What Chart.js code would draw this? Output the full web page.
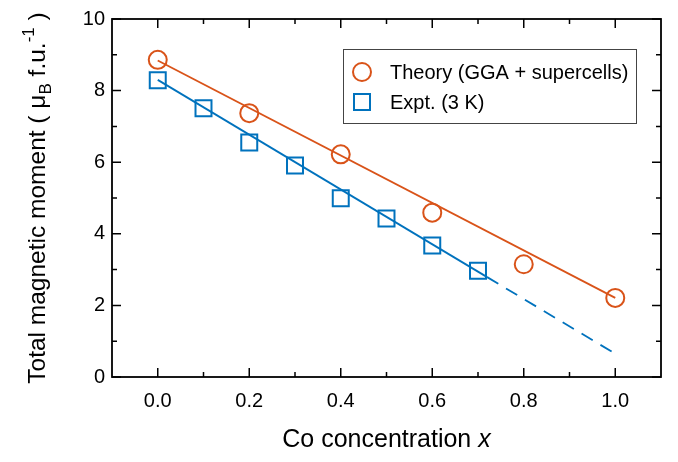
<!DOCTYPE html>
<html>
<head>
<meta charset="utf-8">
<script src="https://cdn.jsdelivr.net/npm/chart.js@4/dist/chart.umd.min.js"></script>
<style>
  html, body { margin: 0; padding: 0; background: #fff; }
  #wrap { width: 678px; height: 462px; }
</style>
</head>
<body>
<div id="wrap"><canvas id="myChart" width="678" height="462"></canvas></div>
<script>
// data
const theoryX = [0.0, 0.2, 0.4, 0.6, 0.8, 1.0];
const theoryY = [8.86, 7.37, 6.22, 4.59, 3.15, 2.21];
const exptX = [0.0, 0.1, 0.2, 0.3, 0.4, 0.5, 0.6, 0.7];
const exptY = [8.29, 7.51, 6.55, 5.91, 4.99, 4.43, 3.67, 2.97];

// linear fits drawn as straight lines
const theoryFitX = [0.0, 1.0];
const theoryFitY = [8.84, 2.21];
const exptFitX = [0.0, 0.72];
const exptFitY = [8.30, 2.79];
const exptExtrapX = [0.72, 1.0];
const exptExtrapY = [2.79, 0.65];

const xTicks = [0.0, 0.2, 0.4, 0.6, 0.8, 1.0];
const xMinor = [0.1, 0.3, 0.5, 0.7, 0.9];
const yTicks = [0, 2, 4, 6, 8, 10];
const yMinor = [1, 3, 5, 7, 9];

const legendLabels = ['Theory (GGA + supercells)', 'Expt. (3 K)'];

const orange = '#D95319';
const blue = '#0072BD';
const FONT = '"Liberation Sans", Arial, Helvetica, sans-serif';

const pts = (xs, ys) => xs.map((x, i) => ({ x: x, y: ys[i] }));

// box, inward ticks, axis titles and legend
const framePlugin = {
    id: 'frame',
    afterDraw(chart) {
        const ctx = chart.ctx;
        const a = chart.chartArea;
        const xs = chart.scales.x, ys = chart.scales.y;
        ctx.save();
        ctx.strokeStyle = '#000';
        ctx.lineWidth = 1.8;
        ctx.strokeRect(a.left, a.top, a.right - a.left, a.bottom - a.top);

        ctx.lineWidth = 1.5;
        ctx.beginPath();
        const tickX = (vals, len) => vals.forEach(v => {
            const px = xs.getPixelForValue(v);
            ctx.moveTo(px, a.bottom); ctx.lineTo(px, a.bottom - len);
            ctx.moveTo(px, a.top); ctx.lineTo(px, a.top + len);
        });
        const tickY = (vals, len) => vals.forEach(v => {
            const py = ys.getPixelForValue(v);
            ctx.moveTo(a.left, py); ctx.lineTo(a.left + len, py);
            ctx.moveTo(a.right, py); ctx.lineTo(a.right - len, py);
        });
        tickX(xTicks, 9); tickX(xMinor, 5);
        tickY(yTicks, 9); tickY(yMinor, 5);
        ctx.stroke();

        // x title
        ctx.fillStyle = '#000';
        ctx.textBaseline = 'alphabetic';
        const xt1 = 'Co concentration ';
        const xt2 = 'x';
        ctx.font = '25px ' + FONT;
        const w1 = ctx.measureText(xt1).width;
        ctx.font = 'italic 25px ' + FONT;
        const w2 = ctx.measureText(xt2).width;
        let sx = (a.left + a.right) / 2 - (w1 + w2) / 2;
        const by = 447;
        ctx.font = '25px ' + FONT;
        ctx.textAlign = 'left';
        ctx.fillText(xt1, sx, by);
        ctx.font = 'italic 25px ' + FONT;
        ctx.fillText(xt2, sx + w1, by);

        // y title with subscript / superscript
        const parts = [
            { t: 'Total magnetic moment ( \u03bc', s: 24.5, dy: 0 },
            { t: 'B', s: 17, dy: 6 },
            { t: ' f.u.', s: 24.5, dy: 0 },
            { t: '-1', s: 17, dy: -11 },
            { t: ' )', s: 24.5, dy: 0 }
        ];
        let total = 0;
        parts.forEach(p => { ctx.font = p.s + 'px ' + FONT; p.w = ctx.measureText(p.t).width; total += p.w; });
        ctx.translate(45, (a.top + a.bottom) / 2);
        ctx.rotate(-Math.PI / 2);
        let cx = -total / 2;
        parts.forEach(p => {
            ctx.font = p.s + 'px ' + FONT;
            ctx.fillText(p.t, cx, p.dy);
            cx += p.w;
        });
        ctx.restore();

        // legend box
        ctx.save();
        ctx.strokeStyle = '#444';
        ctx.lineWidth = 1;
        ctx.fillStyle = '#fff';
        ctx.fillRect(343.5, 49.5, 293, 74);
        ctx.strokeRect(343.5, 49.5, 293, 74);
        ctx.lineWidth = 2;
        ctx.strokeStyle = orange;
        ctx.beginPath();
        ctx.arc(362, 72, 9, 0, Math.PI * 2);
        ctx.stroke();
        ctx.strokeStyle = blue;
        ctx.strokeRect(354, 94, 16, 16);
        ctx.fillStyle = '#000';
        ctx.font = '20px ' + FONT;
        ctx.textBaseline = 'middle';
        ctx.textAlign = 'left';
        ctx.fillText(legendLabels[0], 390, 73);
        ctx.fillText(legendLabels[1], 390, 103);
        ctx.restore();
    }
};

const chart = new Chart(document.getElementById('myChart'), {
    type: 'scatter',
    data: {
        datasets: [
            {
                label: 'Theory fit', data: pts(theoryFitX, theoryFitY), showLine: true,
                borderColor: orange, borderWidth: 1.8, pointRadius: 0
            },
            {
                label: 'Expt fit', data: pts(exptFitX, exptFitY), showLine: true,
                borderColor: blue, borderWidth: 1.8, pointRadius: 0
            },
            {
                label: 'Expt extrapolation', data: pts(exptExtrapX, exptExtrapY), showLine: true,
                borderColor: blue, borderWidth: 1.8, pointRadius: 0, borderDash: [13, 9]
            },
            {
                label: legendLabels[0], data: pts(theoryX, theoryY), showLine: false,
                pointStyle: 'circle', pointRadius: 9, borderColor: orange, borderWidth: 2,
                backgroundColor: 'rgba(0,0,0,0)'
            },
            {
                label: legendLabels[1], data: pts(exptX, exptY), showLine: false,
                pointStyle: 'rect', pointRadius: 11.3, borderColor: blue, borderWidth: 2,
                backgroundColor: 'rgba(0,0,0,0)'
            }
        ]
    },
    options: {
        responsive: false,
        animation: false,
        layout: { padding: { top: 19, right: 17, left: 0, bottom: 0 } },
        plugins: { legend: { display: false }, tooltip: { enabled: false } },
        scales: {
            x: {
                type: 'linear', min: -0.1, max: 1.1,
                grid: { display: false, drawTicks: false },
                border: { display: false },
                afterBuildTicks: s => { s.ticks = xTicks.map(v => ({ value: v })); },
                afterFit: s => { s.height = 85; },
                ticks: {
                    color: '#000', padding: 12, maxRotation: 0,
                    font: { family: FONT, size: 20 },
                    callback: v => Number(v).toFixed(1)
                }
            },
            y: {
                type: 'linear', min: 0, max: 10,
                grid: { display: false, drawTicks: false },
                border: { display: false },
                afterBuildTicks: s => { s.ticks = yTicks.map(v => ({ value: v })); },
                afterFit: s => { s.width = 112; },
                ticks: {
                    color: '#000', padding: 7,
                    font: { family: FONT, size: 20 },
                    callback: v => String(v)
                }
            }
        }
    },
    plugins: [framePlugin]
});
</script>
</body>
</html>
